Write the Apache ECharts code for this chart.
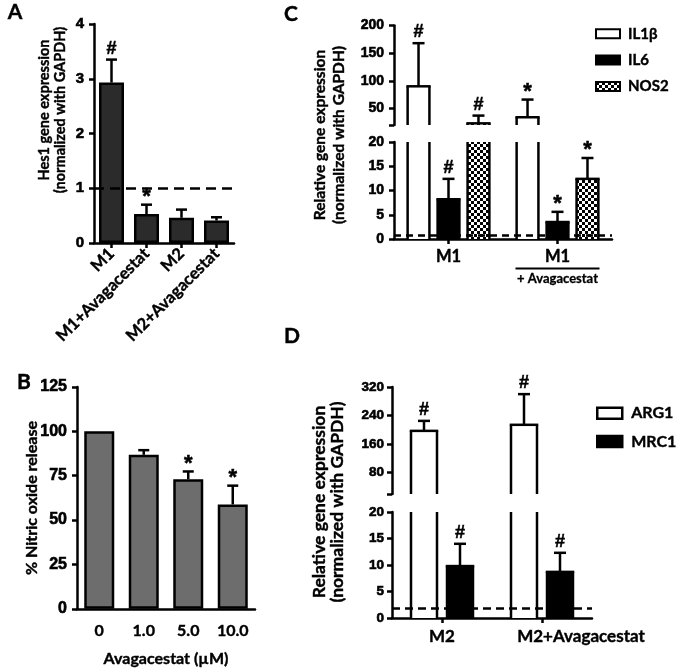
<!DOCTYPE html>
<html><head><meta charset="utf-8">
<script src="https://cdn.jsdelivr.net/npm/echarts@6/dist/echarts.min.js"></script>
<style>html,body{margin:0;padding:0;background:#fff}#c{width:685px;height:668px}</style>
</head><body><div id="c"></div>
<script>
// ---------- DATA ----------
// Panel A
const A_categories = ['M1', 'M1+Avagacestat', 'M2', 'M2+Avagacestat'];
const A_values = [2.93, 0.53, 0.46, 0.41];
const A_errors = [0.42, 0.17, 0.15, 0.06];
const A_marks = ['#', '*', '', ''];
const A_baseline = 1;
// Panel B
const B_categories = ['0', '1.0', '5.0', '10.0'];
const B_values = [100, 86.8, 73, 58.8];
const B_errors = [0, 2.6, 4.4, 10.6];
const B_marks = ['', '', '*', '*'];
// Panel C
const C_categories = ['M1', 'M1+Avagacestat'];
const C_IL1b = [90, 34];
const C_IL1b_err = [78, 32];
const C_IL1b_marks = ['#', '*'];
const C_IL6 = [8.2, 3.5];
const C_IL6_err = [4.2, 2.1];
const C_IL6_marks = ['#', '*'];
const C_NOS2 = [23, 12.4];
const C_NOS2_err = [14, 4.3];
const C_NOS2_marks = ['#', '*'];
const C_baseline = 0.8;
const C_top_range = [20, 200];
const C_top_labels = [50, 100, 150, 200];
const C_bottom_range = [0, 20];
// Panel D
const D_categories = ['M2', 'M2+Avagacestat'];
const D_ARG1 = [197, 214];
const D_ARG1_err = [28, 86];
const D_ARG1_marks = ['#', '#'];
const D_MRC1 = [9.8, 8.7];
const D_MRC1_err = [4.2, 3.6];
const D_MRC1_marks = ['#', '#'];
const D_baseline = 1.8;
const D_top_range = [20, 320];
const D_top_labels = [80, 160, 240, 320];
const D_bottom_range = [0, 20];

// ---------- STYLE ----------
const LW = 2.5;
const NUM_FONT = 'Liberation Sans';
const TXT_FONT = 'Lato';
const HEAVY = { textBorderColor: '#000', textBorderWidth: 0.6 };
const HEAVY_T = { textBorderColor: '#000', textBorderWidth: 0.4 };

function checkerPattern() {
  const cv = document.createElement('canvas');
  cv.width = 6; cv.height = 6;
  const ctx = cv.getContext('2d');
  ctx.fillStyle = '#fff'; ctx.fillRect(0, 0, 6, 6);
  ctx.fillStyle = '#000'; ctx.fillRect(0, 0, 3, 3); ctx.fillRect(3, 3, 3, 3);
  return { image: cv, repeat: 'repeat' };
}
const CHECK = checkerPattern();

function makeRender(offsetFrac, widthFrac, fill, drawBar, marks, capW) {
  return function (params, api) {
    const cat = api.value(0), v = api.value(1), e = api.value(2);
    const band = api.size([1, 0])[0];
    const base = api.coord([cat, 0]);
    const cx = base[0] + offsetFrac * band;
    const w = widthFrac * band;
    const cs = params.coordSys;
    const gTop = cs.y, gBot = cs.y + cs.height;
    const yVal = api.coord([cat, v])[1];
    const yErr = api.coord([cat, v + e])[1];
    const ch = [];
    const ls = { stroke: '#000', lineWidth: LW };
    if (drawBar) {
      const top = Math.max(yVal, gTop), bot = Math.min(base[1], gBot);
      if (bot > top) {
        const x0 = cx - w / 2, x1 = cx + w / 2;
        ch.push({ type: 'rect', shape: { x: x0, y: top, width: w, height: bot - top }, style: { fill: fill } });
        ch.push({ type: 'line', shape: { x1: x0, y1: top, x2: x0, y2: bot }, style: ls });
        ch.push({ type: 'line', shape: { x1: x1, y1: top, x2: x1, y2: bot }, style: ls });
        if (yVal >= gTop) ch.push({ type: 'line', shape: { x1: x0 - LW / 2, y1: yVal, x2: x1 + LW / 2, y2: yVal }, style: ls });
      }
    }
    if (e > 0) {
      const y1 = Math.min(yVal, gBot), y2 = Math.max(yErr, gTop);
      if (y1 > y2) ch.push({ type: 'line', shape: { x1: cx, y1: y1, x2: cx, y2: y2 }, style: ls });
      if (yErr >= gTop && yErr <= gBot) ch.push({ type: 'line', shape: { x1: cx - capW / 2, y1: yErr, x2: cx + capW / 2, y2: yErr }, style: ls });
    }
    const m = marks[params.dataIndex];
    if (m && yErr >= gTop - 0.5 && yErr <= gBot) {
      const star = m === '*';
      ch.push({ type: 'text', x: cx, y: star ? yErr + 3 : yErr - 2,
        style: { text: m, align: 'center', verticalAlign: 'bottom', fontSize: star ? 22 : 18, fontWeight: 'bold',
          fontFamily: NUM_FONT, fill: '#000', stroke: '#000', lineWidth: 0.5 } });
    }
    return { type: 'group', children: ch };
  };
}

const axLine = { show: true, lineStyle: { color: '#000', width: LW } };
const axTick = { show: true, length: 5, lineStyle: { color: '#000', width: LW } };

function yAxis(grid, range, interval, fontSize, margin, labelVals) {
  const ax = {
    type: 'value', gridIndex: grid, min: range[0], max: range[1],
    axisLine: axLine, splitLine: { show: false },
    axisTick: Object.assign({}, axTick),
    axisLabel: Object.assign({ color: '#000', fontFamily: NUM_FONT, fontWeight: 'bold', fontSize: fontSize, margin: margin }, HEAVY)
  };
  if (labelVals) {
    ax.axisTick.customValues = [range[0]].concat(labelVals);
    ax.axisLabel.customValues = labelVals;
  } else {
    ax.interval = interval;
  }
  return ax;
}

function fmtCat(val) {
  const i = val.indexOf('+');
  if (i < 0) return '{m|' + val + '}';
  return '{m|' + val.slice(0, i) + '}\n{ln| }\n{s|+ ' + val.slice(i + 1) + '}';
}

const xAxes = [
  { type: 'category', gridIndex: 0, data: A_categories, axisLine: axLine,
    axisTick: Object.assign({ alignWithLabel: true }, axTick),
    axisLabel: Object.assign({ rotate: 45, color: '#000', fontFamily: TXT_FONT, fontWeight: 'bold', fontSize: 16.5, margin: 8, interval: 0 }, HEAVY_T) },
  { type: 'category', gridIndex: 1, data: B_categories, axisLine: axLine, axisTick: { show: false },
    axisLabel: Object.assign({ color: '#000', fontFamily: TXT_FONT, fontWeight: 'bold', fontSize: 16, margin: 14 }, HEAVY_T),
    name: 'Avagacestat (µM)', nameLocation: 'middle', nameGap: 42,
    nameTextStyle: Object.assign({ color: '#000', fontFamily: TXT_FONT, fontWeight: 'bold', fontSize: 16 }, HEAVY_T) },
  { type: 'category', gridIndex: 2, data: C_categories, show: false },
  { type: 'category', gridIndex: 3, data: C_categories, axisLine: axLine,
    axisTick: Object.assign({ alignWithLabel: true }, axTick),
    axisLabel: { margin: 9, formatter: fmtCat, interval: 0,
      rich: {
        m: Object.assign({ fontFamily: TXT_FONT, fontWeight: 'bold', fontSize: 16.5, lineHeight: 18, color: '#000' }, HEAVY_T),
        ln: { width: 84, height: 2, backgroundColor: '#000', fontSize: 2, lineHeight: 5 },
        s: Object.assign({ fontFamily: TXT_FONT, fontWeight: 'bold', fontSize: 13, lineHeight: 16, color: '#000' }, { textBorderColor: '#000', textBorderWidth: 0.3 })
      } } },
  { type: 'category', gridIndex: 4, data: D_categories, show: false },
  { type: 'category', gridIndex: 5,
    data: D_categories.map((c, i) => i === 1 ? { value: c, textStyle: { padding: [0, 0, 0, 78] } } : c),
    axisLine: axLine,
    axisTick: Object.assign({ alignWithLabel: true }, axTick),
    axisLabel: Object.assign({ color: '#000', fontFamily: TXT_FONT, fontWeight: 'bold', fontSize: 17, margin: 10, interval: 0 }, HEAVY_T) }
];

const yAxes = [
  yAxis(0, [0, 4], 1, 15, 10),
  yAxis(1, [0, 125], 25, 16, 10),
  yAxis(2, C_top_range, null, 14, 10, C_top_labels),
  yAxis(3, C_bottom_range, 5, 14, 10),
  yAxis(4, D_top_range, null, 13.5, 8, D_top_labels),
  yAxis(5, D_bottom_range, 5, 13.5, 8)
];

const dashed = (val, dash) => ({
  symbol: 'none', silent: true, label: { show: false },
  lineStyle: { type: dash, width: LW, color: '#000' },
  data: [{ yAxis: val }]
});

const series = [];
// Panel A
series.push({ type: 'bar', name: 'Hes1', xAxisIndex: 0, yAxisIndex: 0, data: A_values, barWidth: 25, z: 2,
  itemStyle: { color: '#2b2b2b', borderColor: '#000', borderWidth: LW },
  markLine: dashed(A_baseline, [10, 6]) });
series.push({ type: 'custom', name: 'Hes1 err', xAxisIndex: 0, yAxisIndex: 0, z: 3,
  encode: { x: 0, y: 1 },
  data: A_values.map((v, i) => [i, v, A_errors[i]]),
  renderItem: makeRender(0, 0, null, false, A_marks, 11) });
// Panel B
series.push({ type: 'bar', name: 'NO', xAxisIndex: 1, yAxisIndex: 1, data: B_values, barWidth: 30, z: 2,
  itemStyle: { color: '#6d6d6d', borderColor: '#000', borderWidth: LW } });
series.push({ type: 'custom', name: 'NO err', xAxisIndex: 1, yAxisIndex: 1, z: 3,
  encode: { x: 0, y: 1 },
  data: B_values.map((v, i) => [i, v, B_errors[i]]),
  renderItem: makeRender(0, 0, null, false, B_marks, 11) });

// Panel C (broken axis: grids 2 top, 3 bottom)
const C_groups = [
  { name: 'IL1β', vals: C_IL1b, errs: C_IL1b_err, marks: C_IL1b_marks, fill: '#fff', off: -0.275 },
  { name: 'IL6', vals: C_IL6, errs: C_IL6_err, marks: C_IL6_marks, fill: '#000', off: 0 },
  { name: 'NOS2', vals: C_NOS2, errs: C_NOS2_err, marks: C_NOS2_marks, fill: CHECK, off: 0.275 }
];
[2, 3].forEach(function (g) {
  C_groups.forEach(function (grp, k) {
    const s = { type: 'custom', name: grp.name, xAxisIndex: g, yAxisIndex: g, z: 3,
      encode: { x: 0, y: 1 },
      itemStyle: { color: grp.fill, borderColor: '#000', borderWidth: 2 },
      data: grp.vals.map((v, i) => [i, v, grp.errs[i]]),
      renderItem: makeRender(grp.off, 0.2, grp.fill, true, grp.marks, 12) };
    if (g === 3 && k === 0) s.markLine = dashed(C_baseline, [7, 5]);
    series.push(s);
  });
});

// Panel D (broken axis: grids 4 top, 5 bottom)
const D_groups = [
  { name: 'ARG1', vals: D_ARG1, errs: D_ARG1_err, marks: D_ARG1_marks, fill: '#fff', off: -0.18 },
  { name: 'MRC1', vals: D_MRC1, errs: D_MRC1_err, marks: D_MRC1_marks, fill: '#000', off: 0.18 }
];
[4, 5].forEach(function (g) {
  D_groups.forEach(function (grp, k) {
    const s = { type: 'custom', name: grp.name, xAxisIndex: g, yAxisIndex: g, z: 3,
      encode: { x: 0, y: 1 },
      itemStyle: { color: grp.fill, borderColor: '#000', borderWidth: 2 },
      data: grp.vals.map((v, i) => [i, v, grp.errs[i]]),
      renderItem: makeRender(grp.off, 0.26, grp.fill, true, grp.marks, 12) };
    if (g === 5 && k === 0) s.markLine = dashed(D_baseline, [8, 5]);
    series.push(s);
  });
});

const txt = (text, x, y, size, rot, lh) => ({
  type: 'text', x: x, y: y, rotation: rot || 0,
  style: { text: text, align: 'center', verticalAlign: 'middle', fontFamily: TXT_FONT, fontWeight: 'bold',
    fontSize: size, lineHeight: lh || size, fill: '#000', stroke: '#000', lineWidth: 0.4 }
});

const option = {
  backgroundColor: '#fff',
  animation: false,
  grid: [
    { left: 94, top: 24, width: 140, height: 219 },
    { left: 77, top: 387, width: 178, height: 223 },
    { left: 394, top: 25.5, width: 218, height: 99.5 },
    { left: 394, top: 142, width: 218, height: 97 },
    { left: 392, top: 387, width: 200, height: 107 },
    { left: 392, top: 512, width: 200, height: 106 }
  ],
  xAxis: xAxes,
  yAxis: yAxes,
  legend: [
    { data: [
        { name: 'IL1β', itemStyle: { color: '#fff', borderColor: '#000', borderWidth: 2 } },
        { name: 'IL6', itemStyle: { color: '#000', borderColor: '#000', borderWidth: 2 } },
        { name: 'NOS2', itemStyle: { color: CHECK, borderColor: '#000', borderWidth: 2 } }
      ],
      orient: 'vertical', left: 595, top: 26, itemWidth: 24, itemHeight: 9, itemGap: 11, icon: 'rect',
      selectedMode: false, padding: 0,
      textStyle: Object.assign({ fontFamily: TXT_FONT, fontWeight: 'bold', fontSize: 15, color: '#000', padding: [0, 0, 0, 3] }, HEAVY_T) },
    { data: [
        { name: 'ARG1', itemStyle: { color: '#fff', borderColor: '#000', borderWidth: 2.5 } },
        { name: 'MRC1', itemStyle: { color: '#000', borderColor: '#000', borderWidth: 2.5 } }
      ],
      orient: 'vertical', left: 596, top: 405, itemWidth: 25, itemHeight: 11, itemGap: 12, icon: 'rect',
      selectedMode: false, padding: 0,
      textStyle: Object.assign({ fontFamily: TXT_FONT, fontWeight: 'bold', fontSize: 16, color: '#000', padding: [0, 0, 0, 4] }, HEAVY_T) }
  ],
  graphic: [
    txt('A', 15, 12, 21),
    txt('B', 24, 382, 21),
    txt('C', 291, 14, 21),
    txt('D', 292, 336, 21),
    txt('Hes1 gene expression\n(normalized with GAPDH)', 52, 110, 14.5, Math.PI / 2, 16),
    txt('% Nitric oxide release', 32, 498, 16, Math.PI / 2),
    txt('Relative gene expression\n(normalized with GAPDH)', 329, 135, 15.5, Math.PI / 2, 19),
    txt('Relative gene expression\n(normalized with GAPDH)', 328, 502, 17.5, Math.PI / 2, 18)
  ],
  series: series
};

const chart = echarts.init(document.getElementById('c'), null, { renderer: 'canvas' });
chart.setOption(option);
</script>
</body></html>
